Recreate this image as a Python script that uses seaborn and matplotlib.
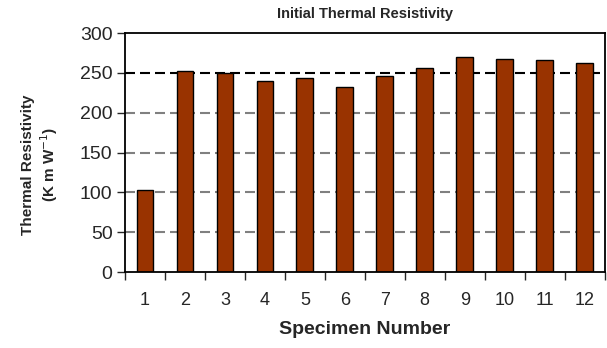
import seaborn as sns
import pandas as pd
import numpy as np
import matplotlib.pyplot as plt

# data
specimens = ['1', '2', '3', '4', '5', '6', '7', '8', '9', '10', '11', '12']
resistivity = [103, 252, 250, 240, 244, 232, 246, 256, 270, 268, 266, 263]

df = pd.DataFrame({'specimen': specimens, 'resistivity': resistivity})

sns.set_style('white')
plt.rcParams['font.family'] = ['Liberation Sans', 'DejaVu Sans']

fig = plt.figure(figsize=(6.07, 3.48), dpi=100)
ax = fig.add_axes([0.206, 0.218, 0.79, 0.687])

sns.barplot(data=df, x='specimen', y='resistivity', color='#993300',
            edgecolor='black', linewidth=1, width=0.42, saturation=1, ax=ax)

ax.set_ylim(0, 300)
ax.set_xlim(-0.5, len(specimens) - 0.5)
ax.set_yticks(range(0, 301, 50))
ax.tick_params(axis='y', labelsize=14, length=6, width=1, direction='out', left=True, pad=3)
ax.tick_params(axis='x', labelsize=13, length=0, pad=14)

# tick marks between categories
ax.set_xticks(np.arange(-0.5, len(specimens), 1), minor=True)
ax.tick_params(axis='x', which='minor', length=6, width=1, direction='out', bottom=True)

# dashed gridlines
for v in range(50, 300, 50):
    col = 'black' if v == 250 else '#808080'
    ax.axhline(v, color=col, linestyle=(0, (4.8, 2.4)), linewidth=1.5, zorder=0)

for s in ax.spines.values():
    s.set_visible(True)
    s.set_color('black')
    s.set_linewidth(1.3)

ax.set_title('Initial Thermal Resistivity', fontsize=10.5, fontweight='bold', pad=11)
ax.set_xlabel('Specimen Number', fontsize=14, fontweight='bold', labelpad=9)
ax.set_ylabel('Thermal Resistivity\n(K m W$^{-1}$)', fontsize=11, fontweight='bold', labelpad=14)
ax.yaxis.set_label_coords(-0.135, 0.45)

plt.savefig('out.png', dpi=100)
